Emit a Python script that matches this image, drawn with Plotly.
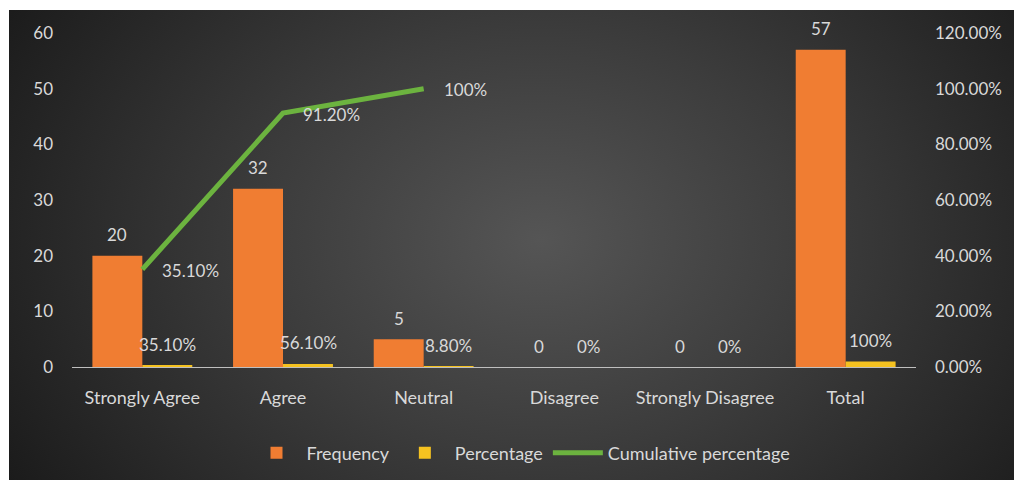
import base64
import plotly.graph_objects as go

categories = ["Strongly Agree", "Agree", "Neutral", "Disagree", "Strongly Disagree", "Total"]
frequency = [20, 32, 5, 0, 0, 57]
percentage = [0.351, 0.561, 0.088, 0, 0, 1.0]
percentage_labels = ["35.10%", "56.10%", "8.80%", "0%", "0%", "100%"]
cum_categories = ["Strongly Agree", "Agree", "Neutral"]
cumulative = [0.351, 0.912, 1.0]
cumulative_labels = ["35.10%", "91.20%", "100%"]

W, H = 1014, 480
ML, MR, MT, MB = 72, 98, 33, 113
PW, PH = W - ML - MR, H - MT - MB

TXT = "#d9d9d9"
FONT = "Lato"
FS = 17
FSW = 18
ORANGE = "#f07d32"
YELLOW = "#f5c220"
GREEN = "#6cb33f"

svg = f'''<svg xmlns="http://www.w3.org/2000/svg" width="{W}" height="{H}" viewBox="0 0 {W} {H}">
<defs>
<radialGradient id="g" gradientUnits="userSpaceOnUse" cx="540" cy="240" r="620"
 gradientTransform="translate(540 240) scale(1 0.75) translate(-540 -240)">
<stop offset="0" stop-color="#555555"/>
<stop offset="0.45" stop-color="#3c3c3c"/>
<stop offset="1" stop-color="#1b1b1b"/>
</radialGradient>
</defs>
<rect x="0" y="0" width="{W}" height="{H}" fill="#ffffff"/>
<rect x="9" y="10" width="{W-9}" height="{H-10}" fill="url(#g)"/>
</svg>'''
src = "data:image/svg+xml;base64," + base64.b64encode(svg.encode()).decode()

fig = go.Figure()
fig.add_trace(go.Bar(x=categories, y=frequency, name="Frequency",
                     marker=dict(color=ORANGE, line=dict(width=0))))
fig.add_trace(go.Bar(x=categories, y=percentage, name="Percentage",
                     marker=dict(color=YELLOW, line=dict(width=0))))
fig.add_trace(go.Scatter(x=cum_categories, y=cumulative, name="Cumulative percentage",
                         mode="lines", yaxis="y2",
                         line=dict(color=GREEN, width=5)))

ann = []
for c, v in zip(categories, frequency):
    ann.append(dict(x=c, y=v, xref="x", yref="y", text=str(v), showarrow=False,
                    xshift=-25, yshift=21, font=dict(color=TXT, size=FS, family=FONT)))
for c, v, t in zip(categories, percentage, percentage_labels):
    ann.append(dict(x=c, y=v, xref="x", yref="y", text=t, showarrow=False,
                    xshift=25, yshift=21, font=dict(color=TXT, size=FS, family=FONT)))
for c, v, t in zip(cum_categories, cumulative, cumulative_labels):
    ann.append(dict(x=c, y=v, xref="x", yref="y2", text=t, showarrow=False,
                    xanchor="left", xshift=18, yshift=-1, font=dict(color=TXT, size=FS, family=FONT)))

fig.update_layout(
    width=W, height=H,
    margin=dict(l=ML, r=MR, t=MT, b=MB, autoexpand=False),
    paper_bgcolor="#ffffff",
    plot_bgcolor="rgba(0,0,0,0)",
    font=dict(family=FONT, color=TXT, size=FS),
    barmode="group", bargap=0.29, bargroupgap=0,
    showlegend=True,
    legend=dict(orientation="h", x=(521 - ML) / PW, xanchor="center",
                y=(MT + PH - 453) / PH, yanchor="middle",
                font=dict(color=TXT, size=FSW, family=FONT),
                bgcolor="rgba(0,0,0,0)", itemwidth=50, traceorder="normal"),
    xaxis=dict(showgrid=False, zeroline=False, showline=True, linecolor="#bfbfbf",
               linewidth=1, ticks="", tickfont=dict(color=TXT, size=FSW, family=FONT),
               ticklabelstandoff=14),
    yaxis=dict(range=[0, 60], dtick=10, showgrid=False, zeroline=False, showline=False,
               ticks="", tickfont=dict(color=TXT, size=FS, family=FONT), ticklabelstandoff=18),
    yaxis2=dict(range=[0, 1.2], dtick=0.2, tickformat=".2%", overlaying="y", side="right",
                showgrid=False, zeroline=False, showline=False, ticks="",
                tickfont=dict(color=TXT, size=FS, family=FONT), ticklabelstandoff=18),
    images=[dict(source=src, xref="paper", yref="paper",
                 x=-ML / PW, y=1 + MT / PH, sizex=W / PW, sizey=H / PH,
                 xanchor="left", yanchor="top", sizing="stretch", layer="below")],
    annotations=ann,
)

fig.write_html("out.html", config={"displayModeBar": False},
               post_script="document.body.style.margin='0';document.body.style.overflow='hidden';")
